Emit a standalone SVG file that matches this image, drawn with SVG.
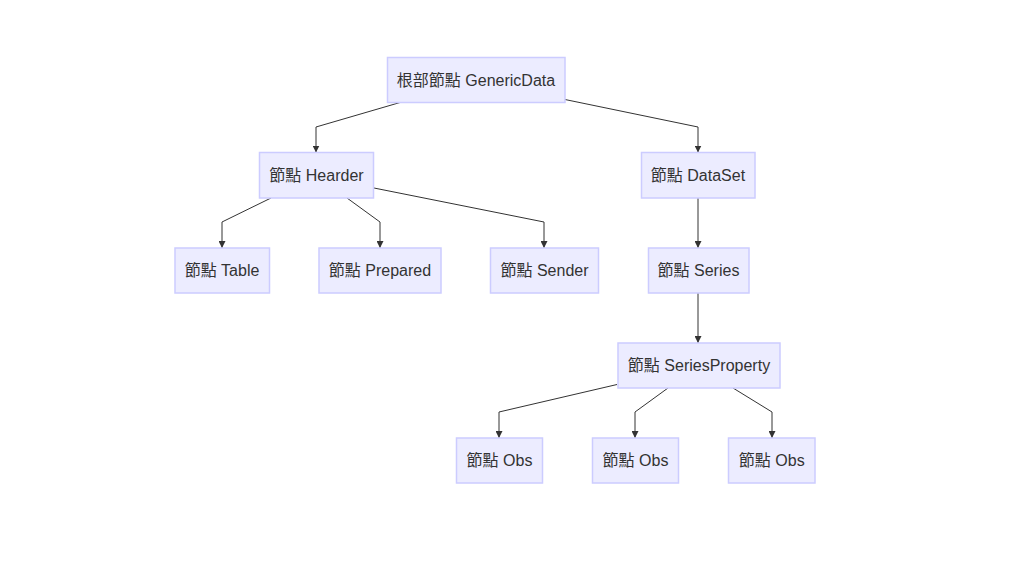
<svg xmlns="http://www.w3.org/2000/svg" width="1009" height="568" viewBox="0 0 1009 568">
<style>
  .node rect { fill: #ECECFF; stroke: #CCCCFF; stroke-width: 1.5; }
  .node text { font-family: "Liberation Sans", "Noto Sans CJK TC", Arial, sans-serif; font-size: 16px; fill: #333333; text-anchor: middle; dominant-baseline: central; }
  .edge { fill: none; stroke: #333333; stroke-width: 1; marker-end: url(#arrow); }
</style>
<defs>
  <marker id="arrow" viewBox="0 0 10 10" refX="10" refY="5" markerWidth="7" markerHeight="7" markerUnits="userSpaceOnUse" orient="auto">
    <path d="M0,0 L10,5 L0,10 z" fill="#333333"/>
  </marker>
</defs>
<rect width="1009" height="568" fill="#ffffff"/>
<g id="edges">
  <polyline class="edge" points="400,102.5 316,127 316,152.5"/>
  <polyline class="edge" points="565,99.5 698,127 698,152.5"/>
  <polyline class="edge" points="271,198 222,222 222,248"/>
  <polyline class="edge" points="347,198 380,222 380,248"/>
  <polyline class="edge" points="374,188 544,222 544,248"/>
  <polyline class="edge" points="698,198 698,248"/>
  <polyline class="edge" points="698,293 698,343"/>
  <polyline class="edge" points="617,384.5 499,412 499,438"/>
  <polyline class="edge" points="668,388 635,412 635,438"/>
  <polyline class="edge" points="733,388 772,412 772,438"/>
</g>
<g id="root" class="node"><rect x="387.5" y="57.5" width="177.5" height="45"/><text x="476" y="80">根部節點 GenericData</text></g>
<g id="hearder" class="node"><rect x="259.5" y="152.5" width="114" height="45.5"/><text x="316.5" y="175">節點 Hearder</text></g>
<g id="dataset" class="node"><rect x="641.5" y="152.5" width="113.5" height="45.5"/><text x="698" y="175">節點 DataSet</text></g>
<g id="table" class="node"><rect x="175" y="248" width="94.5" height="45"/><text x="222" y="270.5">節點 Table</text></g>
<g id="prepared" class="node"><rect x="319" y="248" width="122" height="45"/><text x="380" y="270.5">節點 Prepared</text></g>
<g id="sender" class="node"><rect x="490.5" y="248" width="108" height="45"/><text x="544.5" y="270.5">節點 Sender</text></g>
<g id="series" class="node"><rect x="648.5" y="248" width="100.5" height="45"/><text x="698.5" y="270.5">節點 Series</text></g>
<g id="seriesproperty" class="node"><rect x="618" y="343" width="162" height="45"/><text x="699" y="365.5">節點 SeriesProperty</text></g>
<g id="obs1" class="node"><rect x="456.5" y="438" width="86" height="45"/><text x="499.5" y="460.5">節點 Obs</text></g>
<g id="obs2" class="node"><rect x="592.5" y="438" width="86" height="45"/><text x="635.5" y="460.5">節點 Obs</text></g>
<g id="obs3" class="node"><rect x="728.5" y="438" width="86.5" height="45"/><text x="771.75" y="460.5">節點 Obs</text></g>
</svg>
